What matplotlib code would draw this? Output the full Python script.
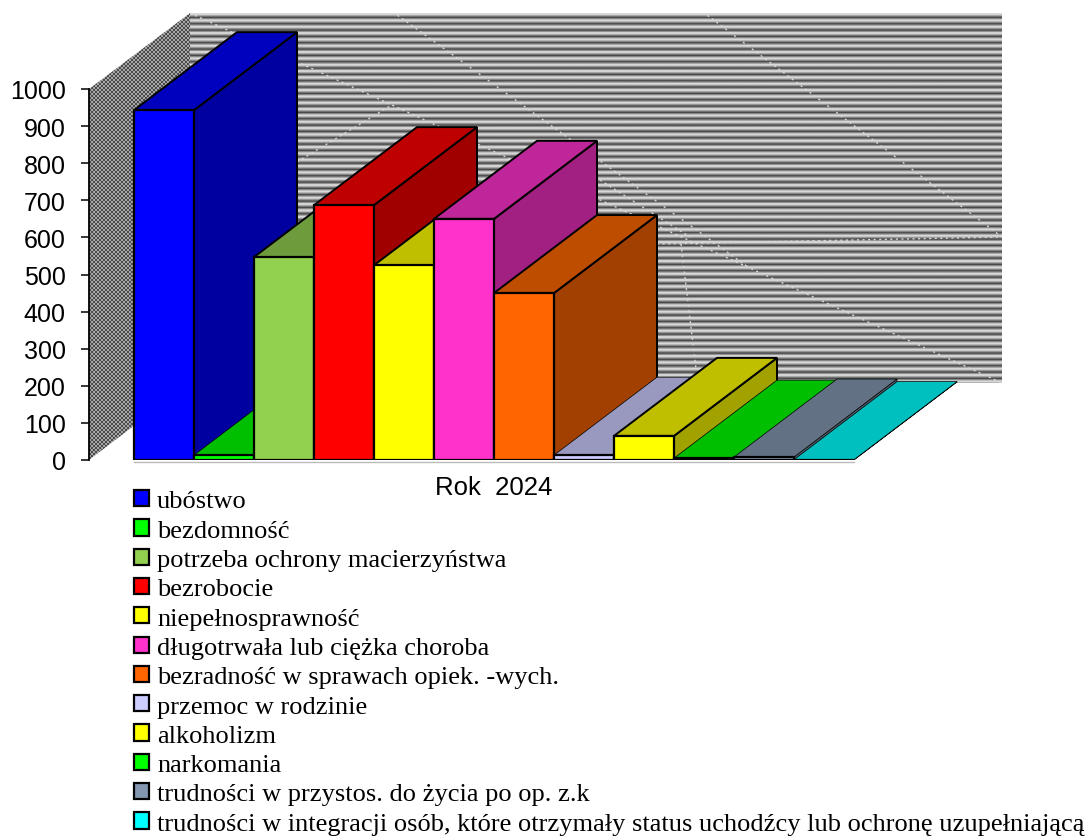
import numpy as np
import matplotlib
matplotlib.use('Agg')
import matplotlib.pyplot as plt
from matplotlib.patches import Patch, Polygon
from matplotlib.colors import to_rgb

categories = ['ubóstwo', 'bezdomność', 'potrzeba ochrony macierzyństwa', 'bezrobocie',
              'niepełnosprawność', 'długotrwała lub ciężka choroba',
              'bezradność w sprawach opiek. -wych.', 'przemoc w rodzinie', 'alkoholizm',
              'narkomania', 'trudności w przystos. do życia po op. z.k',
              'trudności w integracji osób, które otrzymały status uchodźcy lub ochronę uzupełniającą']
values = [943, 13, 547, 687, 525, 650, 450, 13, 65, 5, 8, 1]
colors = ['#0000ff', '#00ff00', '#92d050', '#ff0000', '#ffff00', '#ff33cc',
          '#ff6600', '#ccccff', '#ffff00', '#00ff00', '#8497b0', '#00ffff']
yticks = list(range(0, 1001, 100))

W, H = 1089, 837
PX_Y = 371 / 1000   # pixels per unit
PX_X = 60           # pixels per bar
DX = 103 / PX_X
DY = 78 / PX_Y

fig = plt.figure(figsize=(W / 100, H / 100), dpi=100)
L, R, T, B = 89, 1002, 14, 461
ax = fig.add_axes([L / W, 1 - B / H, (R - L) / W, (B - T) / H])
ax.set_xlim((L - 134) / PX_X, (R - 134) / PX_X)
ax.set_ylim(0, (B - T) / PX_Y)


def px(x, y):
    return (x - 134) / PX_X, (461 - y) / PX_Y


def shade(c, f):
    return tuple(v * f for v in to_rgb(c))


# sciany
x0, x1 = px(190, 0)[0], px(1002, 0)[0]
y0, y1 = px(0, 384)[1], px(0, 14)[1]
rows = np.array([0.85] * 6 + [0.65] * 3 + [0.45] * 3 + [0.25] * 3 + [0.55] * 4)
stripes = np.tile(rows, 60)[:1110]
ax.imshow(stripes[:, None], cmap='gray', vmin=0, vmax=1, aspect='auto',
          extent=(x0, x1, y0, y1), interpolation='antialiased', zorder=1)
xx, yy = np.meshgrid(np.arange(101), np.arange(447))
check = ((xx // 2 + yy // 2) % 2) * 0.35 + 0.3
side = ax.imshow(check, cmap='gray', vmin=0, vmax=1, aspect='auto',
                 extent=(px(89, 0)[0], x0, 0, px(0, 14)[1]), interpolation='nearest', zorder=1)
side.set_clip_path(Polygon([px(89, 90), px(190, 14), px(190, 384), px(89, 461)],
                           transform=ax.transData))

# linie siatki (kropkowane, jasne)
grid_lines = [[(190, 14), (1002, 384)], [(393, 13), (748, 268)], [(703, 13), (1002, 238)],
              [(297, 163), (390, 107)], [(600, 181), (690, 238)], [(657, 245), (1002, 238)],
              [(681, 245), (696, 370)]]
for a, b in grid_lines:
    pa, pb = px(*a), px(*b)
    ax.plot([pa[0], pb[0]], [pa[1], pb[1]], color='#d8d8d8', lw=1.0, ls=(0, (1.5, 2.5)), zorder=2)

# slupki
for i, (v, c) in enumerate(zip(values, colors)):
    z = 3 + i
    top = [(i, v), (i + 1, v), (i + 1 + DX, v + DY), (i + DX, v + DY)]
    sd = [(i + 1, 0), (i + 1, v), (i + 1 + DX, v + DY), (i + 1 + DX, DY)]
    lw = 1.4 if v > 20 else 0.5
    ax.add_patch(Polygon(sd, fc=shade(c, 0.63), ec='k', lw=lw, zorder=z))
    ax.add_patch(Polygon(top, fc=shade(c, 0.75), ec='k', lw=lw, zorder=z))
    ax.bar(i + 0.5, v, width=1, color=c, edgecolor='k', linewidth=1.6, zorder=z)

# cien pod slupkami
ax.plot([0, len(values)], [px(0, 463)[1]] * 2, color='#bbbbbb', lw=1.0, clip_on=False, zorder=2)

# osie
ax.set_yticks(yticks)
ax.tick_params(axis='y', labelsize=18, length=5.8, width=1.1, pad=11)
ax.set_xticks([6])
ax.set_xticklabels(['Rok  2024'], fontsize=18.5)
ax.tick_params(axis='x', length=0, pad=11)
for lab in ax.get_xticklabels() + ax.get_yticklabels():
    lab.set_fontfamily('Liberation Sans')
for s in ['top', 'right', 'bottom']:
    ax.spines[s].set_visible(False)
ax.spines['left'].set_bounds(0, 1000)
ax.spines['left'].set_linewidth(1.3)

handles = [Patch(fc=c, ec='k', lw=1.6) for c in colors]
fig.legend(handles, categories, loc='upper left', bbox_to_anchor=(134 / W, 1 - 491 / H),
           frameon=False, ncol=1, handlelength=0.57, handleheight=0.57, handletextpad=0.3,
           labelspacing=0.26, borderpad=0, borderaxespad=0,
           prop={'family': 'Liberation Serif', 'size': 19})

fig.savefig('out.png', dpi=100)
